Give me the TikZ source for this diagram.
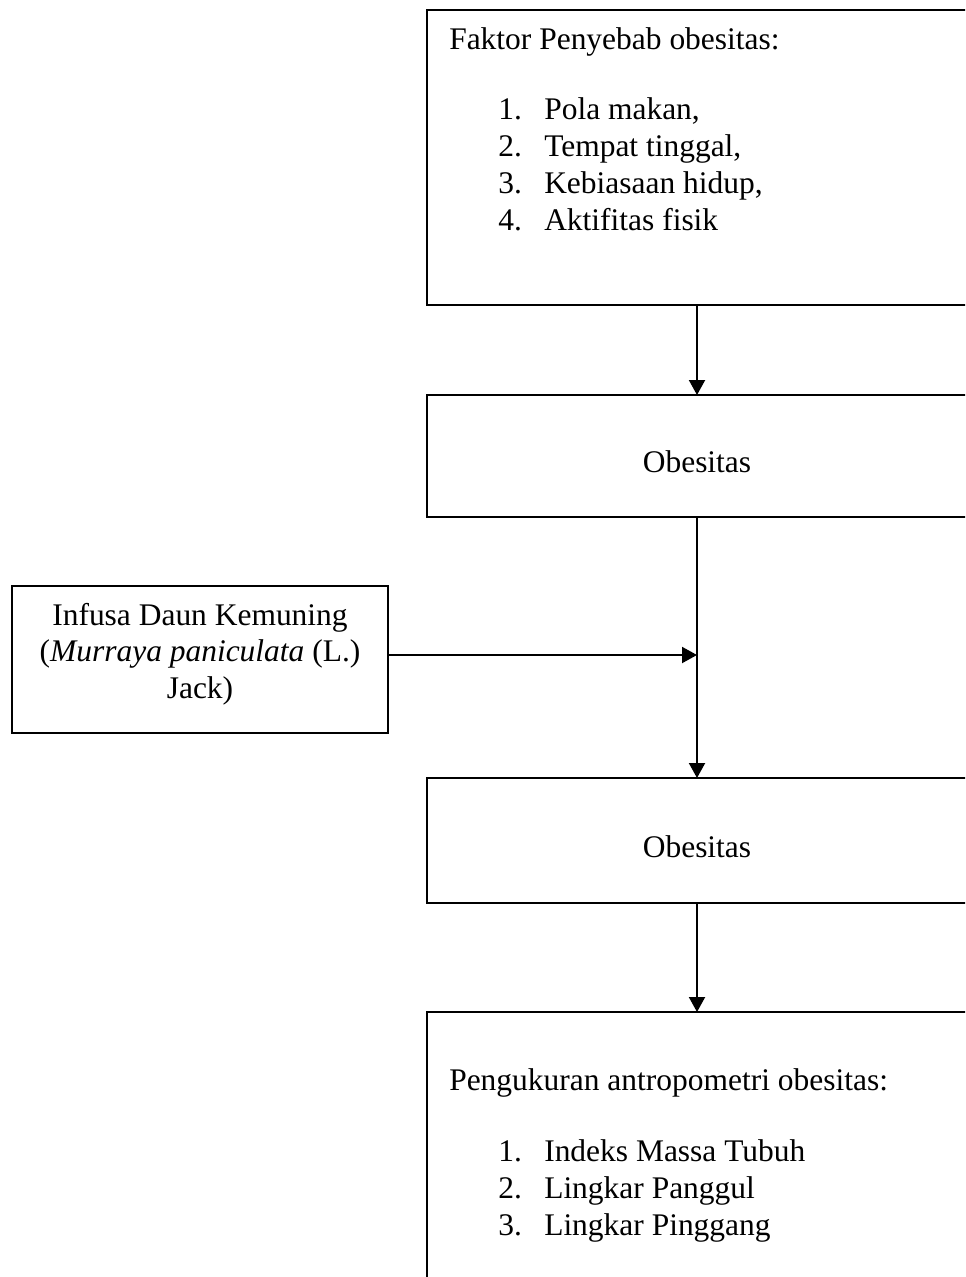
\documentclass[tikz,border=0pt]{standalone}
\usepackage{fontspec}
\setmainfont{Liberation Serif}
\usetikzlibrary{arrows.meta}
\begin{document}
\begin{tikzpicture}[x=0.75pt,y=-0.75pt,
  box/.style={draw,line width=1.5pt,inner sep=0pt,outer sep=0pt,minimum width=405pt},
  txt/.style={inner sep=0pt,font=\fontsize{23.6pt}{27.5pt}\selectfont},
  arr/.style={line width=1.5pt,-{Triangle[length=11.25pt,width=12pt]}}]
\useasboundingbox (0,0) rectangle (965,1277);
\clip (0,0) rectangle (965,1277);
% boxes
\node[box,minimum height=221.25pt] (b1) at (697,157.5) {};
\node[box,minimum height=91.5pt] (b2) at (697,456) {};
\node[box,minimum height=93.75pt] (b3) at (697,840.5) {};
\node[box,minimum height=216pt] (b4) at (697,1156) {};
\node[box,minimum width=282pt,minimum height=110.25pt] (inf) at (200,659.5) {};
% texts
\node[txt,anchor=base west] (h1) at (449,49.5) {Faktor Penyebab obesitas:};
\foreach \n/\t/\y in {1/{Pola makan,}/120,2/{Tempat tinggal,}/156.7,3/{Kebiasaan hidup,}/193.4,4/{Aktifitas fisik}/230.1}{
  \node[txt,anchor=base west] (fn\n) at (498,\y) {\n.};
  \node[txt,anchor=base west] (ft\n) at (544,\y) {\t};
}
\node[txt,anchor=base] (o1) at (697,472) {Obesitas};
\node[txt,anchor=base] (o2) at (697,857) {Obesitas};
\node[txt,anchor=base] (i1) at (200,625) {Infusa Daun Kemuning};
\node[txt,anchor=base] (i2) at (200,661) {(\textit{Murraya paniculata} (L.)};
\node[txt,anchor=base] (i3) at (200,698) {Jack)};
\node[txt,anchor=base west] (h4) at (449,1090) {Pengukuran antropometri obesitas:};
\foreach \n/\t/\y in {1/{Indeks Massa Tubuh}/1161.7,2/{Lingkar Panggul}/1198.4,3/{Lingkar Pinggang}/1235.1}{
  \node[txt,anchor=base west] (pn\n) at (498,\y) {\n.};
  \node[txt,anchor=base west] (pt\n) at (544,\y) {\t};
}
% connectors
\coordinate (j) at (697,655);
\draw[arr] (b1.south) -- (b2.north);
\draw[arr] (b2.south) -- (b3.north);
\draw[arr] (inf.east |- j) -- (j);
\draw[arr] (b3.south) -- (b4.north);
\end{tikzpicture}
\end{document}
